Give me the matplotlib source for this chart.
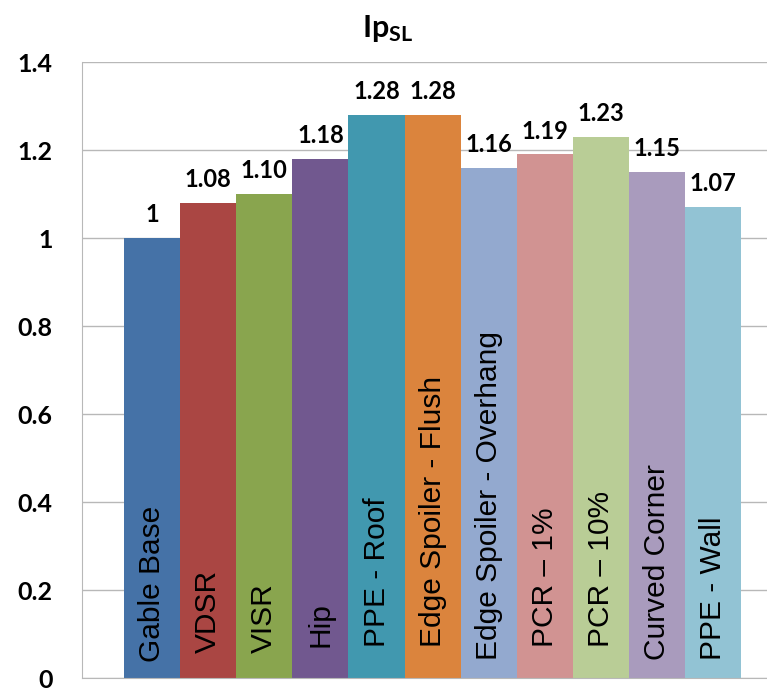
import matplotlib
matplotlib.use("Agg")
import matplotlib.pyplot as plt

# data
categories = ["Gable Base", "VDSR", "VISR", "Hip", "PPE - Roof",
              "Edge Spoiler - Flush", "Edge Spoiler - Overhang",
              "PCR \u2013 1%", "PCR \u2013 10%", "Curved Corner", "PPE - Wall"]
values = [1.0, 1.08, 1.10, 1.18, 1.28, 1.28, 1.16, 1.19, 1.23, 1.15, 1.07]
value_labels = ["1", "1.08", "1.10", "1.18", "1.28", "1.28",
                "1.16", "1.19", "1.23", "1.15", "1.07"]
colors = ["#4572A7", "#AA4643", "#89A54E", "#71588F", "#4198AF", "#DB843D",
          "#93A9CF", "#D19392", "#B9CD96", "#A99BBD", "#92C3D4"]
yticks = [0, 0.2, 0.4, 0.6, 0.8, 1, 1.2, 1.4]
ytick_labels = ["0", "0.2", "0.4", "0.6", "0.8", "1", "1.2", "1.4"]
# where each in-bar label starts (text boxes sit a bit unevenly in the original)
label_start = [0.036, 0.057, 0.057, 0.07, 0.07, 0.07, 0.041, 0.07, 0.07, 0.041, 0.041]

plt.rcParams["mathtext.fontset"] = "custom"
plt.rcParams["mathtext.rm"] = "Lato"
plt.rcParams["mathtext.bf"] = "Lato:bold"

fig = plt.figure(figsize=(7.67, 6.92), dpi=100)
ax = fig.add_axes([82 / 767, 1 - 678 / 692, 685 / 767, 616 / 692])

x = list(range(len(values)))
ax.bar(x, values, width=1.0, color=colors, zorder=2)

for xi, v, lab in zip(x, values, value_labels):
    ax.text(xi, v + 0.027, lab, ha="center", va="bottom",
            fontsize=17, fontweight="bold", family="Lato", zorder=3)

for xi, cat, y0 in zip(x, categories, label_start):
    ax.text(xi, y0, cat, rotation=90, ha="center", va="bottom",
            fontsize=21.5, family="Liberation Sans", color="black", zorder=3)

ax.set_xlim(-1.249, 10.96)
ax.set_ylim(0, 1.4)
ax.set_xticks([])
ax.set_yticks(yticks)
ax.set_yticklabels(ytick_labels, fontsize=18, fontweight="bold", family="Lato")
ax.tick_params(axis="y", length=0, pad=21)
ax.grid(axis="y", color="#b8b8b8", linewidth=1, zorder=0)
for s in ["top", "right"]:
    ax.spines[s].set_visible(False)
ax.spines["left"].set_color("#b8b8b8")
ax.spines["bottom"].set_color("#b8b8b8")

fig.text(388 / 767, 1 - 28 / 692, r"$\mathbf{Ip_{SL}}$", ha="center", va="center",
         fontsize=22)

fig.savefig("out.png", dpi=100)
